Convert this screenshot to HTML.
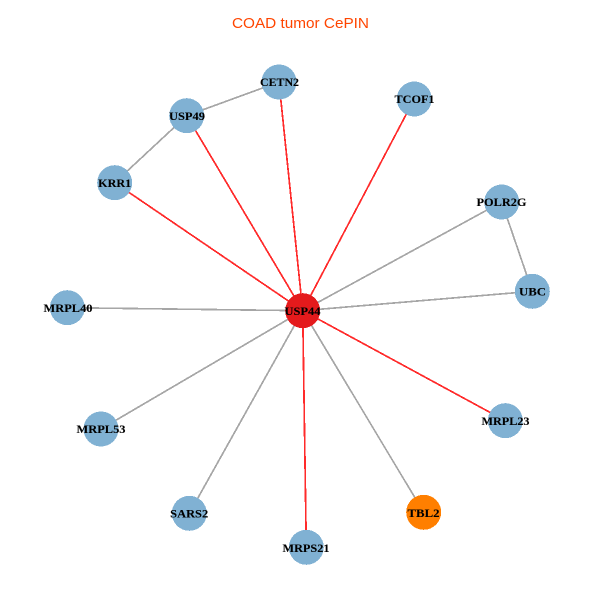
<!DOCTYPE html>
<html>
<head>
<meta charset="utf-8">
<style>
html,body{margin:0;padding:0;background:#fff;width:600px;height:600px;overflow:hidden}
svg{display:block}
.l{font-family:"Liberation Serif",serif;font-weight:bold;font-size:12px;fill:#000;text-anchor:middle;stroke:#000;stroke-width:.1}
.g{stroke:#a6a6a6;stroke-width:1.7}
.r{stroke:#ff2a2a;stroke-width:1.7}
</style>
</head>
<body>
<svg width="600" height="600" viewBox="0 0 600 600" xmlns="http://www.w3.org/2000/svg">
<rect width="600" height="600" fill="#fff"/>
<text x="300.5" y="28" text-anchor="middle" font-family="'Liberation Sans',sans-serif" font-size="14.5" fill="#ff4500" textLength="137" lengthAdjust="spacingAndGlyphs">COAD tumor CePIN</text>
<g shape-rendering="crispEdges">
<line class="g" x1="186.7" y1="115.7" x2="279" y2="82"/>
<line class="g" x1="186.7" y1="115.7" x2="114.7" y2="182.7"/>
<line class="g" x1="501.7" y1="202" x2="532.3" y2="291.3"/>
<line class="g" x1="302.7" y1="310.7" x2="501.7" y2="202"/>
<line class="g" x1="302.7" y1="310.7" x2="532.3" y2="291.3"/>
<line class="g" x1="302.7" y1="310.7" x2="67.3" y2="307.7"/>
<line class="g" x1="302.7" y1="310.7" x2="101" y2="429"/>
<line class="g" x1="302.7" y1="310.7" x2="189.3" y2="513.3"/>
<line class="g" x1="302.7" y1="310.7" x2="423.7" y2="512.3"/>
<line class="r" x1="302.7" y1="310.7" x2="186.7" y2="115.7"/>
<line class="r" x1="302.7" y1="310.7" x2="279" y2="82"/>
<line class="r" x1="302.7" y1="310.7" x2="414.3" y2="99"/>
<line class="r" x1="302.7" y1="310.7" x2="114.7" y2="182.7"/>
<line class="r" x1="302.7" y1="310.7" x2="505.3" y2="420.7"/>
<line class="r" x1="302.7" y1="310.7" x2="306.3" y2="547.3"/>
</g>
<g fill="#80b1d3" shape-rendering="crispEdges">
<circle cx="279" cy="82" r="17.5"/>
<circle cx="186.7" cy="115.7" r="17.5"/>
<circle cx="114.7" cy="182.7" r="17.5"/>
<circle cx="414.3" cy="99" r="17.5"/>
<circle cx="501.7" cy="202" r="17.5"/>
<circle cx="532.3" cy="291.3" r="17.5"/>
<circle cx="67.3" cy="307.7" r="17.5"/>
<circle cx="101" cy="429" r="17.5"/>
<circle cx="189.3" cy="513.3" r="17.5"/>
<circle cx="306.3" cy="547.3" r="17.5"/>
<circle cx="505.3" cy="420.7" r="17.5"/>
</g>
<circle cx="423.7" cy="512.3" r="17.5" fill="#ff7f00" shape-rendering="crispEdges"/>
<circle cx="302.7" cy="310.7" r="17.5" fill="#e41a1c" shape-rendering="crispEdges"/>
<text class="l" x="279.5" y="86" textLength="39" lengthAdjust="spacingAndGlyphs">CETN2</text>
<text class="l" x="187" y="120" textLength="36" lengthAdjust="spacingAndGlyphs">USP49</text>
<text class="l" x="114.7" y="187" textLength="33" lengthAdjust="spacingAndGlyphs">KRR1</text>
<text class="l" x="414.5" y="103" textLength="40" lengthAdjust="spacingAndGlyphs">TCOF1</text>
<text class="l" x="501.5" y="206" textLength="50" lengthAdjust="spacingAndGlyphs">POLR2G</text>
<text class="l" x="532.5" y="295.5" textLength="27" lengthAdjust="spacingAndGlyphs">UBC</text>
<text class="l" x="68" y="312" textLength="49" lengthAdjust="spacingAndGlyphs">MRPL40</text>
<text class="l" x="101" y="433" textLength="49" lengthAdjust="spacingAndGlyphs">MRPL53</text>
<text class="l" x="189.2" y="517.5" textLength="38" lengthAdjust="spacingAndGlyphs">SARS2</text>
<text class="l" x="306" y="552" textLength="47" lengthAdjust="spacingAndGlyphs">MRPS21</text>
<text class="l" x="423.5" y="517" textLength="32" lengthAdjust="spacingAndGlyphs">TBL2</text>
<text class="l" x="505.5" y="425" textLength="48" lengthAdjust="spacingAndGlyphs">MRPL23</text>
<text class="l" x="302.5" y="315" textLength="36" lengthAdjust="spacingAndGlyphs">USP44</text>
</svg>
</body>
</html>
